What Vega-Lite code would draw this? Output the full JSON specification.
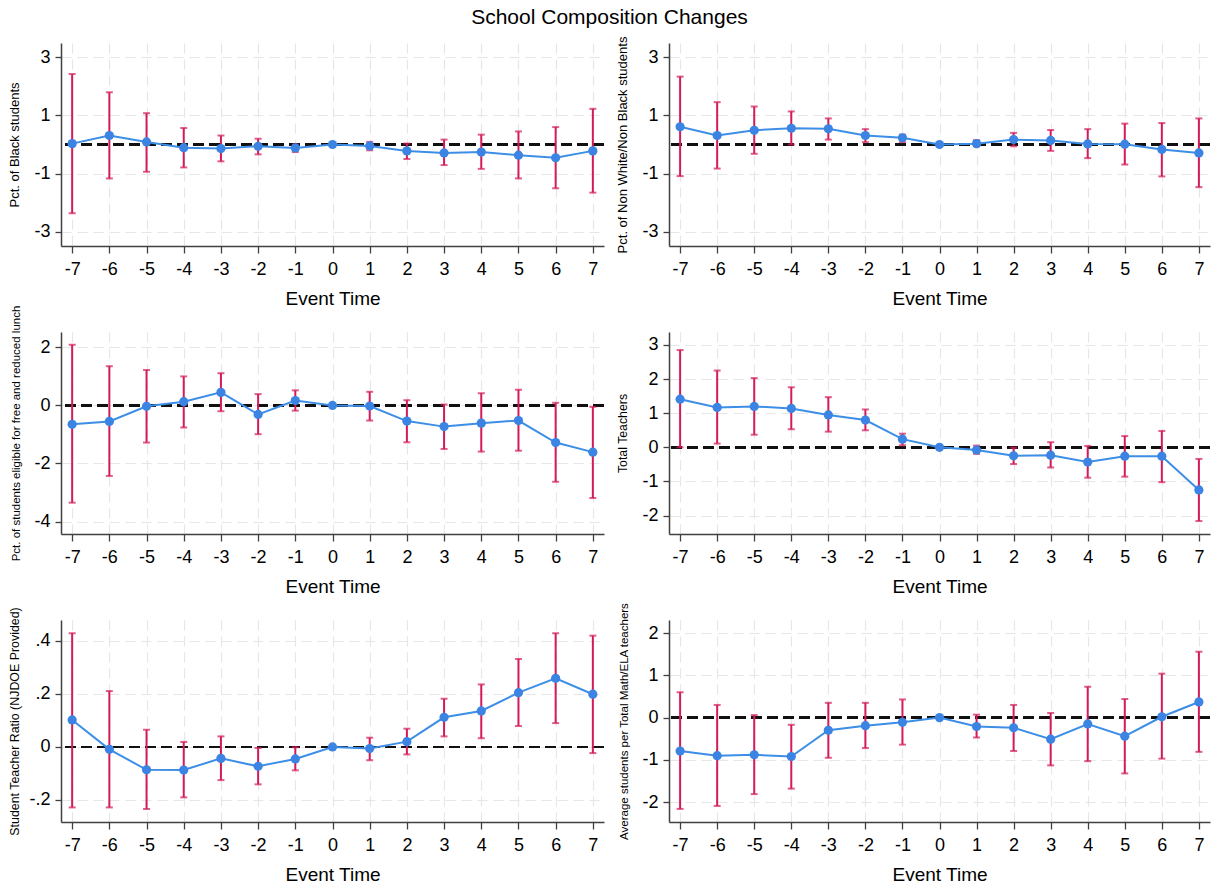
{
  "$schema": "https://vega.github.io/schema/vega-lite/v6.json",
  "padding": {"left": 8, "top": 7, "right": 3, "bottom": 4},
  "background": "white",
  "title": {"text": "School Composition Changes", "fontSize": 21, "font": "Liberation Sans", "fontWeight": "normal", "anchor": "middle", "offset": 8, "color": "#000000"},
  "datasets": {
    "est": [
      {"p":1,"t":-7,"b":0.03,"lo":-2.37,"hi":2.43},
      {"p":1,"t":-6,"b":0.31,"lo":-1.17,"hi":1.8},
      {"p":1,"t":-5,"b":0.09,"lo":-0.94,"hi":1.08},
      {"p":1,"t":-4,"b":-0.11,"lo":-0.79,"hi":0.57},
      {"p":1,"t":-3,"b":-0.14,"lo":-0.58,"hi":0.31},
      {"p":1,"t":-2,"b":-0.06,"lo":-0.34,"hi":0.2},
      {"p":1,"t":-1,"b":-0.12,"lo":-0.26,"hi":0.0},
      {"p":1,"t":0,"b":0,"lo":0,"hi":0},
      {"p":1,"t":1,"b":-0.05,"lo":-0.2,"hi":0.09},
      {"p":1,"t":2,"b":-0.22,"lo":-0.5,"hi":0.03},
      {"p":1,"t":3,"b":-0.29,"lo":-0.71,"hi":0.17},
      {"p":1,"t":4,"b":-0.26,"lo":-0.84,"hi":0.34},
      {"p":1,"t":5,"b":-0.37,"lo":-1.17,"hi":0.45},
      {"p":1,"t":6,"b":-0.46,"lo":-1.51,"hi":0.6},
      {"p":1,"t":7,"b":-0.22,"lo":-1.66,"hi":1.23},
      {"p":2,"t":-7,"b":0.61,"lo":-1.09,"hi":2.34},
      {"p":2,"t":-6,"b":0.31,"lo":-0.83,"hi":1.46},
      {"p":2,"t":-5,"b":0.49,"lo":-0.32,"hi":1.31},
      {"p":2,"t":-4,"b":0.56,"lo":0.0,"hi":1.14},
      {"p":2,"t":-3,"b":0.54,"lo":0.17,"hi":0.9},
      {"p":2,"t":-2,"b":0.31,"lo":0.08,"hi":0.53},
      {"p":2,"t":-1,"b":0.23,"lo":0.08,"hi":0.34},
      {"p":2,"t":0,"b":0,"lo":0,"hi":0},
      {"p":2,"t":1,"b":0.03,"lo":-0.06,"hi":0.15},
      {"p":2,"t":2,"b":0.17,"lo":-0.06,"hi":0.4},
      {"p":2,"t":3,"b":0.14,"lo":-0.22,"hi":0.5},
      {"p":2,"t":4,"b":0.02,"lo":-0.47,"hi":0.53},
      {"p":2,"t":5,"b":0.01,"lo":-0.69,"hi":0.72},
      {"p":2,"t":6,"b":-0.17,"lo":-1.1,"hi":0.74},
      {"p":2,"t":7,"b":-0.29,"lo":-1.47,"hi":0.9},
      {"p":3,"t":-7,"b":-0.65,"lo":-3.35,"hi":2.09},
      {"p":3,"t":-6,"b":-0.55,"lo":-2.43,"hi":1.35},
      {"p":3,"t":-5,"b":-0.03,"lo":-1.28,"hi":1.22},
      {"p":3,"t":-4,"b":0.13,"lo":-0.76,"hi":1.0},
      {"p":3,"t":-3,"b":0.45,"lo":-0.2,"hi":1.11},
      {"p":3,"t":-2,"b":-0.31,"lo":-0.99,"hi":0.39},
      {"p":3,"t":-1,"b":0.17,"lo":-0.18,"hi":0.52},
      {"p":3,"t":0,"b":0,"lo":0,"hi":0},
      {"p":3,"t":1,"b":-0.02,"lo":-0.52,"hi":0.47},
      {"p":3,"t":2,"b":-0.54,"lo":-1.27,"hi":0.18},
      {"p":3,"t":3,"b":-0.73,"lo":-1.5,"hi":0.03},
      {"p":3,"t":4,"b":-0.61,"lo":-1.59,"hi":0.42},
      {"p":3,"t":5,"b":-0.52,"lo":-1.56,"hi":0.54},
      {"p":3,"t":6,"b":-1.28,"lo":-2.63,"hi":0.09},
      {"p":3,"t":7,"b":-1.61,"lo":-3.19,"hi":-0.05},
      {"p":4,"t":-7,"b":1.41,"lo":0.0,"hi":2.85},
      {"p":4,"t":-6,"b":1.17,"lo":0.11,"hi":2.25},
      {"p":4,"t":-5,"b":1.2,"lo":0.37,"hi":2.03},
      {"p":4,"t":-4,"b":1.14,"lo":0.53,"hi":1.76},
      {"p":4,"t":-3,"b":0.95,"lo":0.46,"hi":1.47},
      {"p":4,"t":-2,"b":0.8,"lo":0.5,"hi":1.11},
      {"p":4,"t":-1,"b":0.24,"lo":0.06,"hi":0.4},
      {"p":4,"t":0,"b":0,"lo":0,"hi":0},
      {"p":4,"t":1,"b":-0.08,"lo":-0.19,"hi":0.05},
      {"p":4,"t":2,"b":-0.25,"lo":-0.49,"hi":-0.01},
      {"p":4,"t":3,"b":-0.23,"lo":-0.59,"hi":0.15},
      {"p":4,"t":4,"b":-0.43,"lo":-0.89,"hi":0.04},
      {"p":4,"t":5,"b":-0.26,"lo":-0.86,"hi":0.33},
      {"p":4,"t":6,"b":-0.26,"lo":-1.02,"hi":0.48},
      {"p":4,"t":7,"b":-1.25,"lo":-2.16,"hi":-0.34},
      {"p":5,"t":-7,"b":0.102,"lo":-0.228,"hi":0.429},
      {"p":5,"t":-6,"b":-0.009,"lo":-0.228,"hi":0.211},
      {"p":5,"t":-5,"b":-0.086,"lo":-0.234,"hi":0.065},
      {"p":5,"t":-4,"b":-0.087,"lo":-0.19,"hi":0.019},
      {"p":5,"t":-3,"b":-0.043,"lo":-0.125,"hi":0.04},
      {"p":5,"t":-2,"b":-0.073,"lo":-0.141,"hi":-0.004},
      {"p":5,"t":-1,"b":-0.045,"lo":-0.088,"hi":-0.001},
      {"p":5,"t":0,"b":0,"lo":0,"hi":0},
      {"p":5,"t":1,"b":-0.006,"lo":-0.05,"hi":0.035},
      {"p":5,"t":2,"b":0.02,"lo":-0.028,"hi":0.069},
      {"p":5,"t":3,"b":0.112,"lo":0.04,"hi":0.182},
      {"p":5,"t":4,"b":0.136,"lo":0.033,"hi":0.236},
      {"p":5,"t":5,"b":0.205,"lo":0.079,"hi":0.332},
      {"p":5,"t":6,"b":0.259,"lo":0.09,"hi":0.429},
      {"p":5,"t":7,"b":0.199,"lo":-0.023,"hi":0.42},
      {"p":6,"t":-7,"b":-0.79,"lo":-2.16,"hi":0.6},
      {"p":6,"t":-6,"b":-0.9,"lo":-2.09,"hi":0.3},
      {"p":6,"t":-5,"b":-0.88,"lo":-1.81,"hi":0.06},
      {"p":6,"t":-4,"b":-0.92,"lo":-1.68,"hi":-0.17},
      {"p":6,"t":-3,"b":-0.3,"lo":-0.95,"hi":0.35},
      {"p":6,"t":-2,"b":-0.19,"lo":-0.72,"hi":0.35},
      {"p":6,"t":-1,"b":-0.11,"lo":-0.64,"hi":0.43},
      {"p":6,"t":0,"b":0,"lo":0,"hi":0},
      {"p":6,"t":1,"b":-0.21,"lo":-0.47,"hi":0.07},
      {"p":6,"t":2,"b":-0.24,"lo":-0.79,"hi":0.3},
      {"p":6,"t":3,"b":-0.51,"lo":-1.13,"hi":0.11},
      {"p":6,"t":4,"b":-0.15,"lo":-1.03,"hi":0.73},
      {"p":6,"t":5,"b":-0.44,"lo":-1.32,"hi":0.44},
      {"p":6,"t":6,"b":0.02,"lo":-0.97,"hi":1.04},
      {"p":6,"t":7,"b":0.37,"lo":-0.81,"hi":1.56}
    ]
  },
  "columns": 2,
  "spacing": {"row": 86, "column": 65},
  "bounds": "flush",
  "concat": [
    {
      "width": 543, "height": 203,
      "data": {"name": "est"},
      "transform": [{"filter": "datum.p == 1"}],
      "layer": [
        {"mark": {"type": "rule", "color": "#111111", "strokeWidth": 2, "strokeDash": [11, 5]},
         "encoding": {"y": {"datum": 0, "type": "quantitative", "scale": {"domain": [-3.5, 3.5], "nice": false, "zero": false}, "axis": {"values": [-3, -1, 1, 3], "labelExpr": "toString(datum.value)", "title": "Pct. of Black students", "titleFontSize": 13}}}},
        {"encoding": {"x": {"field": "t", "type": "quantitative", "scale": {"domain": [-7.3, 7.3], "nice": false, "zero": false}, "axis": {"values": [-7,-6,-5,-4,-3,-2,-1,0,1,2,3,4,5,6,7], "labelExpr": "toString(datum.value)", "title": "Event Time", "labelFlush": false}}},
         "layer": [
          {"mark": {"type": "line", "color": "#3d8ee6", "strokeWidth": 2},
           "encoding": {"y": {"field": "b", "type": "quantitative", "scale": {"domain": [-3.5, 3.5], "nice": false, "zero": false}, "title": "Pct. of Black students"}}},
          {"mark": {"type": "errorbar", "color": "#d31a5c", "thickness": 2, "ticks": {"size": 7, "thickness": 2}},
           "encoding": {"y": {"field": "lo", "type": "quantitative", "scale": {"domain": [-3.5, 3.5], "nice": false, "zero": false}, "title": "Pct. of Black students"}, "y2": {"field": "hi"}}},
          {"mark": {"type": "circle", "size": 85, "color": "#3b84e3", "opacity": 1},
           "encoding": {"y": {"field": "b", "type": "quantitative", "scale": {"domain": [-3.5, 3.5], "nice": false, "zero": false}, "title": "Pct. of Black students"}}}
         ]}
      ]
    },
    {
      "width": 541, "height": 203,
      "data": {"name": "est"},
      "transform": [{"filter": "datum.p == 2"}],
      "layer": [
        {"mark": {"type": "rule", "color": "#111111", "strokeWidth": 2, "strokeDash": [11, 5]},
         "encoding": {"y": {"datum": 0, "type": "quantitative", "scale": {"domain": [-3.5, 3.5], "nice": false, "zero": false}, "axis": {"values": [-3, -1, 1, 3], "labelExpr": "toString(datum.value)", "title": "Pct. of Non White/Non Black students", "titleFontSize": 13}}}},
        {"encoding": {"x": {"field": "t", "type": "quantitative", "scale": {"domain": [-7.3, 7.3], "nice": false, "zero": false}, "axis": {"values": [-7,-6,-5,-4,-3,-2,-1,0,1,2,3,4,5,6,7], "labelExpr": "toString(datum.value)", "title": "Event Time", "labelFlush": false}}},
         "layer": [
          {"mark": {"type": "line", "color": "#3d8ee6", "strokeWidth": 2},
           "encoding": {"y": {"field": "b", "type": "quantitative", "scale": {"domain": [-3.5, 3.5], "nice": false, "zero": false}, "title": "Pct. of Non White/Non Black students"}}},
          {"mark": {"type": "errorbar", "color": "#d31a5c", "thickness": 2, "ticks": {"size": 7, "thickness": 2}},
           "encoding": {"y": {"field": "lo", "type": "quantitative", "scale": {"domain": [-3.5, 3.5], "nice": false, "zero": false}, "title": "Pct. of Non White/Non Black students"}, "y2": {"field": "hi"}}},
          {"mark": {"type": "circle", "size": 85, "color": "#3b84e3", "opacity": 1},
           "encoding": {"y": {"field": "b", "type": "quantitative", "scale": {"domain": [-3.5, 3.5], "nice": false, "zero": false}, "title": "Pct. of Non White/Non Black students"}}}
         ]}
      ]
    },
    {
      "width": 543, "height": 202,
      "data": {"name": "est"},
      "transform": [{"filter": "datum.p == 3"}],
      "layer": [
        {"mark": {"type": "rule", "color": "#111111", "strokeWidth": 2, "strokeDash": [11, 5]},
         "encoding": {"y": {"datum": 0, "type": "quantitative", "scale": {"domain": [-4.43, 2.53], "nice": false, "zero": false}, "axis": {"values": [-4, -2, 0, 2], "labelExpr": "toString(datum.value)", "title": "Pct. of students eligible for free and reduced lunch", "titleFontSize": 11.5}}}},
        {"encoding": {"x": {"field": "t", "type": "quantitative", "scale": {"domain": [-7.3, 7.3], "nice": false, "zero": false}, "axis": {"values": [-7,-6,-5,-4,-3,-2,-1,0,1,2,3,4,5,6,7], "labelExpr": "toString(datum.value)", "title": "Event Time", "labelFlush": false}}},
         "layer": [
          {"mark": {"type": "line", "color": "#3d8ee6", "strokeWidth": 2},
           "encoding": {"y": {"field": "b", "type": "quantitative", "scale": {"domain": [-4.43, 2.53], "nice": false, "zero": false}, "title": "Pct. of students eligible for free and reduced lunch"}}},
          {"mark": {"type": "errorbar", "color": "#d31a5c", "thickness": 2, "ticks": {"size": 7, "thickness": 2}},
           "encoding": {"y": {"field": "lo", "type": "quantitative", "scale": {"domain": [-4.43, 2.53], "nice": false, "zero": false}, "title": "Pct. of students eligible for free and reduced lunch"}, "y2": {"field": "hi"}}},
          {"mark": {"type": "circle", "size": 85, "color": "#3b84e3", "opacity": 1},
           "encoding": {"y": {"field": "b", "type": "quantitative", "scale": {"domain": [-4.43, 2.53], "nice": false, "zero": false}, "title": "Pct. of students eligible for free and reduced lunch"}}}
         ]}
      ]
    },
    {
      "width": 541, "height": 202,
      "data": {"name": "est"},
      "transform": [{"filter": "datum.p == 4"}],
      "layer": [
        {"mark": {"type": "rule", "color": "#111111", "strokeWidth": 2, "strokeDash": [11, 5]},
         "encoding": {"y": {"datum": 0, "type": "quantitative", "scale": {"domain": [-2.54, 3.38], "nice": false, "zero": false}, "axis": {"values": [-2, -1, 0, 1, 2, 3], "labelExpr": "toString(datum.value)", "title": "Total Teachers", "titleFontSize": 12.3}}}},
        {"encoding": {"x": {"field": "t", "type": "quantitative", "scale": {"domain": [-7.3, 7.3], "nice": false, "zero": false}, "axis": {"values": [-7,-6,-5,-4,-3,-2,-1,0,1,2,3,4,5,6,7], "labelExpr": "toString(datum.value)", "title": "Event Time", "labelFlush": false}}},
         "layer": [
          {"mark": {"type": "line", "color": "#3d8ee6", "strokeWidth": 2},
           "encoding": {"y": {"field": "b", "type": "quantitative", "scale": {"domain": [-2.54, 3.38], "nice": false, "zero": false}, "title": "Total Teachers"}}},
          {"mark": {"type": "errorbar", "color": "#d31a5c", "thickness": 2, "ticks": {"size": 7, "thickness": 2}},
           "encoding": {"y": {"field": "lo", "type": "quantitative", "scale": {"domain": [-2.54, 3.38], "nice": false, "zero": false}, "title": "Total Teachers"}, "y2": {"field": "hi"}}},
          {"mark": {"type": "circle", "size": 85, "color": "#3b84e3", "opacity": 1},
           "encoding": {"y": {"field": "b", "type": "quantitative", "scale": {"domain": [-2.54, 3.38], "nice": false, "zero": false}, "title": "Total Teachers"}}}
         ]}
      ]
    },
    {
      "width": 543, "height": 202,
      "data": {"name": "est"},
      "transform": [{"filter": "datum.p == 5"}],
      "layer": [
        {"mark": {"type": "rule", "color": "#111111", "strokeWidth": 2, "strokeDash": [11, 5]},
         "encoding": {"y": {"datum": 0, "type": "quantitative", "scale": {"domain": [-0.283, 0.479], "nice": false, "zero": false}, "axis": {"values": [-0.2, 0, 0.2, 0.4], "labelExpr": "datum.value == 0 ? '0' : replace(toString(datum.value), '0.', '.')", "title": "Student Teacher Ratio (NJDOE Provided)", "titleFontSize": 12.4}}}},
        {"encoding": {"x": {"field": "t", "type": "quantitative", "scale": {"domain": [-7.3, 7.3], "nice": false, "zero": false}, "axis": {"values": [-7,-6,-5,-4,-3,-2,-1,0,1,2,3,4,5,6,7], "labelExpr": "toString(datum.value)", "title": "Event Time", "labelFlush": false}}},
         "layer": [
          {"mark": {"type": "line", "color": "#3d8ee6", "strokeWidth": 2},
           "encoding": {"y": {"field": "b", "type": "quantitative", "scale": {"domain": [-0.283, 0.479], "nice": false, "zero": false}, "title": "Student Teacher Ratio (NJDOE Provided)"}}},
          {"mark": {"type": "errorbar", "color": "#d31a5c", "thickness": 2, "ticks": {"size": 7, "thickness": 2}},
           "encoding": {"y": {"field": "lo", "type": "quantitative", "scale": {"domain": [-0.283, 0.479], "nice": false, "zero": false}, "title": "Student Teacher Ratio (NJDOE Provided)"}, "y2": {"field": "hi"}}},
          {"mark": {"type": "circle", "size": 85, "color": "#3b84e3", "opacity": 1},
           "encoding": {"y": {"field": "b", "type": "quantitative", "scale": {"domain": [-0.283, 0.479], "nice": false, "zero": false}, "title": "Student Teacher Ratio (NJDOE Provided)"}}}
         ]}
      ]
    },
    {
      "width": 541, "height": 202,
      "data": {"name": "est"},
      "transform": [{"filter": "datum.p == 6"}],
      "layer": [
        {"mark": {"type": "rule", "color": "#111111", "strokeWidth": 2, "strokeDash": [11, 5]},
         "encoding": {"y": {"datum": 0, "type": "quantitative", "scale": {"domain": [-2.47, 2.31], "nice": false, "zero": false}, "axis": {"values": [-2, -1, 0, 1, 2], "labelExpr": "toString(datum.value)", "title": "Average students per Total Math/ELA teachers", "titleFontSize": 11.5}}}},
        {"encoding": {"x": {"field": "t", "type": "quantitative", "scale": {"domain": [-7.3, 7.3], "nice": false, "zero": false}, "axis": {"values": [-7,-6,-5,-4,-3,-2,-1,0,1,2,3,4,5,6,7], "labelExpr": "toString(datum.value)", "title": "Event Time", "labelFlush": false}}},
         "layer": [
          {"mark": {"type": "line", "color": "#3d8ee6", "strokeWidth": 2},
           "encoding": {"y": {"field": "b", "type": "quantitative", "scale": {"domain": [-2.47, 2.31], "nice": false, "zero": false}, "title": "Average students per Total Math/ELA teachers"}}},
          {"mark": {"type": "errorbar", "color": "#d31a5c", "thickness": 2, "ticks": {"size": 7, "thickness": 2}},
           "encoding": {"y": {"field": "lo", "type": "quantitative", "scale": {"domain": [-2.47, 2.31], "nice": false, "zero": false}, "title": "Average students per Total Math/ELA teachers"}, "y2": {"field": "hi"}}},
          {"mark": {"type": "circle", "size": 85, "color": "#3b84e3", "opacity": 1},
           "encoding": {"y": {"field": "b", "type": "quantitative", "scale": {"domain": [-2.47, 2.31], "nice": false, "zero": false}, "title": "Average students per Total Math/ELA teachers"}}}
         ]}
      ]
    }
  ],
  "config": {
    "view": {"stroke": null},
    "axis": {
      "domainColor": "#404040", "domainWidth": 1.5,
      "tickColor": "#404040", "tickWidth": 1.3, "tickSize": 6,
      "grid": true, "gridColor": "#e6e6e6", "gridDash": [10, 6], "gridWidth": 1.2,
      "labelFont": "Liberation Sans", "labelFontSize": 18, "labelColor": "#000000",
      "titleFont": "Liberation Sans", "titleFontWeight": "normal", "titleColor": "#000000"
    },
    "axisX": {"titleFontSize": 19, "titlePadding": 11, "labelPadding": 7, "tickSize": 7},
    "axisY": {"labelPadding": 5, "minExtent": 30, "maxExtent": 30, "titlePadding": 10}
  }
}
